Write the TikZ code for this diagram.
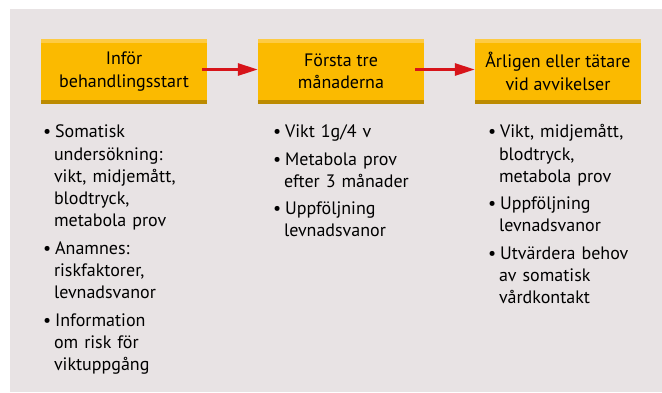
\documentclass[tikz,border=0pt]{standalone}
\usepackage{fontspec}
\setmainfont{PT Sans}
\usepackage{enumitem}
\usetikzlibrary{arrows.meta,positioning}
\definecolor{bakgrund}{HTML}{E8E3E4}
\definecolor{gul}{HTML}{FBBA00}
\definecolor{ljusgul}{HTML}{FDCB45}
\definecolor{morkgul}{HTML}{BC8B00}
\definecolor{pilrod}{HTML}{D7141A}
\setlist[itemize]{label=\textbullet, align=left, labelindent=0pt, labelwidth=7pt, labelsep=4pt, leftmargin=11pt, itemsep=5pt, parsep=0pt, topsep=0pt, partopsep=0pt}

\begin{document}
\begin{tikzpicture}[x=1pt, y=-1pt,
  fas/.style={rectangle, fill=gul, minimum width=166pt, minimum height=65pt, inner sep=0pt, align=center, font=\fontsize{18}{22.5}\selectfont,
    path picture={\fill[ljusgul] (path picture bounding box.north west) rectangle ([yshift=-3.5pt]path picture bounding box.north east);
      \fill[morkgul] ([yshift=4pt]path picture bounding box.south west) rectangle (path picture bounding box.south east);}},
  lista/.style={anchor=north west, inner sep=0pt, text width=170pt, align=left, font=\fontsize{18}{22.3}\selectfont},
  pil/.style={-{Triangle[length=20pt, width=12pt]}, line width=3pt, pilrod}]
\useasboundingbox (0,0) rectangle (662,392);
\fill[bakgrund] (10,9) rectangle (662,392);

\node[fas] (0) at (124,71.5) {Inför\\behandlingsstart};
\node[fas, right of = 0, node distance = 217pt] (1) {Första tre\\månaderna};
\node[fas, right of = 1, node distance = 217pt] (2) {Årligen eller tätare\\vid avvikelser};

\draw[pil] ([xshift=-5pt, yshift=2pt]0.east) -- ([yshift=2pt]1.west);
\draw[pil] ([xshift=-9pt, yshift=2pt]1.east) -- ([yshift=2pt]2.west);

\node[lista] (l0) at ([xshift=2pt, yshift=-11pt]0.south west) {\begin{itemize}
\item Somatisk\\undersökning:\\vikt, midjemått,\\blodtryck,\\metabola prov
\item Anamnes:\\riskfaktorer,\\levnadsvanor
\item Information\\om risk för\\viktuppgång
\end{itemize}};
\node[lista] (l1) at ([xshift=15pt, yshift=-11pt]1.south west) {\begin{itemize}
\item Vikt 1g/4 v
\item Metabola prov\\efter 3 månader
\item Uppföljning\\levnadsvanor
\end{itemize}};
\node[lista] (l2) at ([xshift=13pt, yshift=-11pt]2.south west) {\begin{itemize}
\item Vikt, midjemått,\\blodtryck,\\metabola prov
\item Uppföljning\\levnadsvanor
\item Utvärdera behov\\av somatisk\\vårdkontakt
\end{itemize}};
\end{tikzpicture}
\end{document}
